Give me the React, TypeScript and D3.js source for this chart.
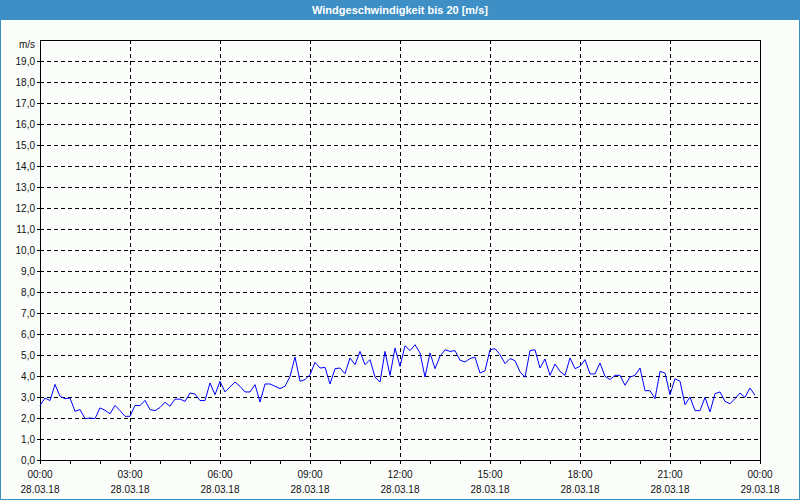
import React from "react";
import * as d3 from "d3";

const TITLE = "Windgeschwindigkeit bis 20 [m/s]";
const UNIT = "m/s";
const START = new Date(2018, 2, 28, 0, 0);
const END = new Date(2018, 2, 29, 0, 0);
const STEP_MINUTES = 10;

const windSpeed: number[] = [
  2.6, 2.95, 2.83, 3.6, 3.03, 2.92, 2.95, 2.32, 2.4, 1.97,
  2.0, 1.97, 2.48, 2.37, 2.2, 2.6, 2.35, 2.08, 2.08, 2.6,
  2.59, 2.84, 2.4, 2.35, 2.5, 2.75, 2.56, 2.9, 2.9, 2.79,
  3.19, 3.14, 2.83, 2.83, 3.67, 3.11, 3.75, 3.24, 3.48, 3.71,
  3.51, 3.24, 3.24, 3.59, 2.76, 3.62, 3.62, 3.51, 3.4,
  3.51, 3.98, 4.9, 3.75, 3.83, 4.06, 4.65, 4.38, 4.41, 3.62,
  4.35, 4.38, 4.11, 4.86, 4.54, 5.17, 4.54, 4.78, 3.95, 3.71,
  5.17, 4.03, 5.33, 4.46, 5.44, 5.21, 5.49, 5.1, 3.95, 5.1,
  4.35, 4.94, 5.25, 5.17, 5.21, 4.75, 4.67, 4.83, 4.9, 4.14,
  4.25, 5.25, 5.3, 5.02, 4.59, 4.83, 4.73,
  4.2, 3.94, 5.21, 5.25, 4.38, 4.81, 4.03, 4.57, 4.22, 4.03,
  4.86, 4.35, 4.46, 4.78, 4.1, 4.1, 4.62, 3.98, 3.83, 4.03,
  4.03, 3.56, 3.95, 4.03, 4.38, 3.3, 3.3, 2.92, 4.22, 4.14,
  3.11, 3.87, 3.75, 2.63, 3.0, 2.35, 2.35, 2.98, 2.29, 3.16,
  3.24, 2.79, 2.68, 2.92, 3.19, 2.98, 3.43, 3.08,
];

const yTickValues: number[] = d3.range(0, 20, 1);
const xMajorHours: number[] = [0, 3, 6, 9, 12, 15, 18, 21, 24];
const xMinorHours: number[] = d3.range(0, 25, 1);

const W = 800;
const H = 500;
const M = { left: 40, right: 40, top: 40, bottom: 40 };
const BLUE = "#3d8fc6";
const FONT = "'Liberation Sans', Arial, sans-serif";

export default function App() {
  const x = d3.scaleTime().domain([START, END]).range([M.left, W - M.right]);
  const y = d3.scaleLinear().domain([0, 20]).range([H - M.bottom, M.top]);

  const points = windSpeed.map((v, i) => ({
    t: d3.timeMinute.offset(START, i * STEP_MINUTES),
    v,
  }));
  const line = d3
    .line<{ t: Date; v: number }>()
    .x((d) => x(d.t))
    .y((d) => y(d.v));

  const hourDate = (h: number) => d3.timeHour.offset(START, h);
  const fmtTime = d3.timeFormat("%H:%M");
  const fmtDate = d3.timeFormat("%d.%m.%y");
  const fmtY = (v: number) => v.toFixed(1).replace(".", ",");

  const x0 = M.left;
  const x1 = W - M.right;
  const y0 = H - M.bottom;
  const y1 = M.top;

  return (
    <svg
      width={W}
      height={H}
      style={{ position: "absolute", left: 0, top: 0, display: "block" }}
      fontFamily={FONT}
    >
      <rect x={0} y={0} width={W} height={H} fill="#fbfdfb" />
      <rect x={0.5} y={0.5} width={W - 1} height={H - 1} fill="none" stroke={BLUE} strokeWidth={1} shapeRendering="crispEdges" />
      <rect x={0} y={0} width={W} height={20} fill={BLUE} />
      <text x={W / 2} y={14} textAnchor="middle" fill="#ffffff" fontSize={11} fontWeight="bold">
        {TITLE}
      </text>

      {/* horizontal grid */}
      {yTickValues
        .filter((v) => v > 0)
        .map((v) => (
          <line
            key={"hg" + v}
            x1={x0}
            x2={x1}
            y1={Math.round(y(v)) + 0.5}
            y2={Math.round(y(v)) + 0.5}
            stroke="#000"
            strokeDasharray="4,3"
            shapeRendering="crispEdges"
          />
        ))}
      {/* vertical grid */}
      {xMajorHours
        .filter((h) => h > 0 && h < 24)
        .map((h) => (
          <line
            key={"vg" + h}
            x1={Math.round(x(hourDate(h))) + 0.5}
            x2={Math.round(x(hourDate(h))) + 0.5}
            y1={y1}
            y2={y0}
            stroke="#000"
            strokeDasharray="4,3"
            shapeRendering="crispEdges"
          />
        ))}

      {/* frame */}
      <rect x={x0 + 0.5} y={y1 + 0.5} width={x1 - x0} height={y0 - y1} fill="none" stroke="#000" shapeRendering="crispEdges" />

      {/* y ticks and labels */}
      {yTickValues.map((v) => (
        <g key={"yt" + v}>
          <line x1={x0 - 3} x2={x0} y1={Math.round(y(v)) + 0.5} y2={Math.round(y(v)) + 0.5} stroke="#000" shapeRendering="crispEdges" />
          <text x={35} y={y(v) + 3.5} textAnchor="end" fontSize={10} fill="#111">
            {fmtY(v)}
          </text>
        </g>
      ))}
      <text x={35} y={y(20) + 8} textAnchor="end" fontSize={10} fill="#111">
        {UNIT}
      </text>

      {/* x ticks */}
      {xMinorHours.map((h) => (
        <line
          key={"xt" + h}
          x1={Math.round(x(hourDate(h))) + 0.5}
          x2={Math.round(x(hourDate(h))) + 0.5}
          y1={y0}
          y2={y0 + 4}
          stroke="#000"
          shapeRendering="crispEdges"
        />
      ))}
      {xMajorHours.map((h) => (
        <g key={"xl" + h}>
          <text x={x(hourDate(h))} y={478} textAnchor="middle" fontSize={10} fill="#111">
            {fmtTime(hourDate(h))}
          </text>
          <text x={x(hourDate(h))} y={493} textAnchor="middle" fontSize={10} fill="#111">
            {fmtDate(hourDate(h))}
          </text>
        </g>
      ))}

      {/* data line */}
      <path d={line(points) || ""} fill="none" stroke="#0000ff" strokeWidth={1} />
    </svg>
  );
}
